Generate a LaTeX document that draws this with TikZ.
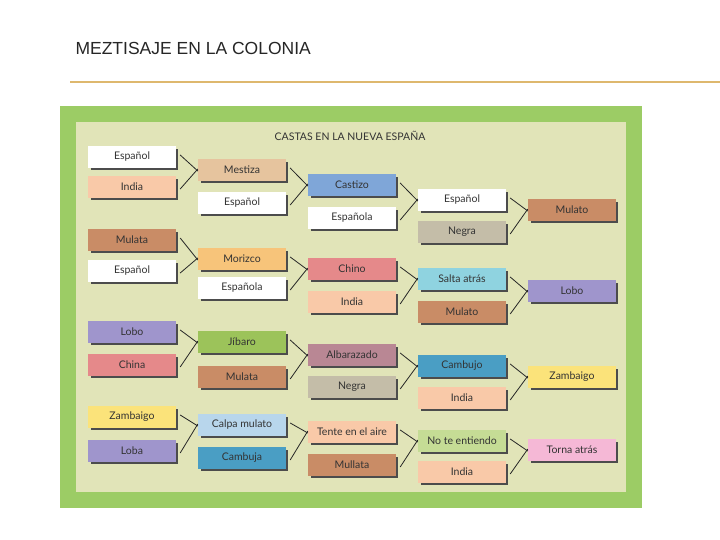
\documentclass[tikz,border=0pt]{standalone}
\usepackage{fontspec}
\setmainfont{Lato}
\newfontfamily\titlefont{Liberation Sans}
\begin{document}
\begin{tikzpicture}[x=1pt,y=-1pt,
  cbox/.style={minimum width=88pt,minimum height=22pt,inner sep=0pt,font=\fontsize{10.5}{11}\selectfont,text=black!80},
  conn/.style={draw=black!85,line width=0.8pt}]
\definecolor{cline}{RGB}{222,184,110}
\definecolor{cframe}{RGB}{156,204,101}
\definecolor{cpanel}{RGB}{225,228,184}
\useasboundingbox (0,0) rectangle (720,540);
\fill[white] (0,0) rectangle (720,540);
\node[anchor=west,font=\fontsize{17.5}{18}\titlefont,text=black!85] (title) at (72,48) {MEZTISAJE EN LA COLONIA};
\draw[cline,line width=1.2pt] (70,82) -- (720,82);
\fill[cframe] (60,106) rectangle (642,508);
\fill[cpanel] (76,122) rectangle (626,492);
\node[font=\fontsize{10.5}{11}\selectfont,text=black!80] (hdr) at (350,136) {CASTAS EN LA NUEVA ESPAÑA};
\newcommand{\bx}[5]{%
  \fill[black!70] (#2-44+3,#3-11+3) rectangle (#2+44+2,#3+11+2);
  \node[cbox,fill={#4}] (#1) at (#2,#3) {#5};}
\definecolor{cwh}{RGB}{255,255,255}
\definecolor{cpe}{RGB}{249,201,168}
\definecolor{ctan}{RGB}{230,196,158}
\definecolor{cblu}{RGB}{127,166,216}
\definecolor{cbr}{RGB}{201,140,102}
\definecolor{cor}{RGB}{247,196,122}
\definecolor{cred}{RGB}{229,137,138}
\definecolor{cpur}{RGB}{159,149,204}
\definecolor{cgrn}{RGB}{156,195,90}
\definecolor{cmau}{RGB}{185,135,148}
\definecolor{cgr}{RGB}{196,189,168}
\definecolor{ccy}{RGB}{143,211,224}
\definecolor{cteal}{RGB}{74,158,196}
\definecolor{cyel}{RGB}{251,227,122}
\definecolor{clb}{RGB}{184,214,236}
\definecolor{clg}{RGB}{197,220,149}
\definecolor{cpk}{RGB}{245,184,214}
% col1
\bx{a1}{132}{157}{cwh}{Español}
\bx{a2}{132}{187}{cpe}{India}
\bx{a3}{132}{240}{cbr}{Mulata}
\bx{a4}{132}{271}{cwh}{Español}
\bx{a5}{132}{332}{cpur}{Lobo}
\bx{a6}{132}{365}{cred}{China}
\bx{a7}{132}{417}{cyel}{Zambaigo}
\bx{a8}{132}{451}{cpur}{Loba}
% col2
\bx{b1}{242}{170}{ctan}{Mestiza}
\bx{b2}{242}{203}{cwh}{Español}
\bx{b3}{242}{259}{cor}{Morizco}
\bx{b4}{242}{288}{cwh}{Española}
\bx{b5}{242}{342}{cgrn}{Jíbaro}
\bx{b6}{242}{377}{cbr}{Mulata}
\bx{b7}{242}{425}{clb}{Calpa mulato}
\bx{b8}{242}{458}{cteal}{Cambuja}
% col3
\bx{c1}{352}{185}{cblu}{Castizo}
\bx{c2}{352}{218}{cwh}{Española}
\bx{c3}{352}{269}{cred}{Chino}
\bx{c4}{352}{302}{cpe}{India}
\bx{c5}{352}{355}{cmau}{Albarazado}
\bx{c6}{352}{387}{cgr}{Negra}
\bx{c7}{352}{432}{cpe}{Tente en el aire}
\bx{c8}{352}{465}{cbr}{Mullata}
% col4
\bx{d1}{462}{200}{cwh}{Español}
\bx{d2}{462}{232}{cgr}{Negra}
\bx{d3}{462}{279}{ccy}{Salta atrás}
\bx{d4}{462}{312}{cbr}{Mulato}
\bx{d5}{462}{366}{cteal}{Cambujo}
\bx{d6}{462}{398}{cpe}{India}
\bx{d7}{462}{441}{clg}{No te entiendo}
\bx{d8}{462}{472}{cpe}{India}
% col5
\bx{e1}{572}{210}{cbr}{Mulato}
\bx{e2}{572}{291}{cpur}{Lobo}
\bx{e3}{572}{377}{cyel}{Zambaigo}
\bx{e4}{572}{450}{cpk}{Torna atrás}
\foreach \p/\q/\c in {a1/a2/b1,a3/a4/b3,a5/a6/b5,a7/a8/b7,
  b1/b2/c1,b3/b4/c3,b5/b6/c5,b7/b8/c7,
  c1/c2/d1,c3/c4/d3,c5/c6/d5,c7/c8/d7,
  d1/d2/e1,d3/d4/e2,d5/d6/e3,d7/d8/e4}{
  \draw[conn] ([xshift=4pt,yshift=2pt]\p.east) -- ([yshift=-1pt]\c.west);
  \draw[conn] ([xshift=4pt,yshift=-2pt]\q.east) -- ([yshift=1pt]\c.west);
}
\end{tikzpicture}
\end{document}
